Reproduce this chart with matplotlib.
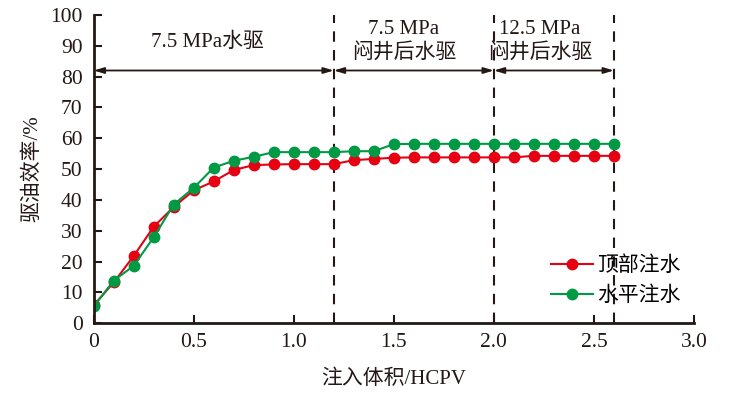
import matplotlib.pyplot as plt
import numpy as np

plt.rcParams['font.family'] = ['Liberation Serif', 'Noto Sans CJK SC']

# datos
vol = [0.0, 0.1, 0.2, 0.3, 0.4, 0.5, 0.6, 0.7, 0.8, 0.9, 1.0, 1.1, 1.2, 1.3,
       1.4, 1.5, 1.6, 1.7, 1.8, 1.9, 2.0, 2.1, 2.2, 2.3, 2.4, 2.5, 2.6]
top_inj = [5.8, 13.2, 21.8, 31.3, 37.7, 43.1, 46.0, 49.7, 51.3, 51.5, 51.6, 51.6, 51.6, 52.9,
           53.3, 53.7, 53.8, 53.8, 53.8, 53.8, 53.8, 53.8, 54.3, 54.3, 54.3, 54.3, 54.3]
hor_inj = [5.4, 13.8, 18.6, 27.9, 38.5, 43.9, 50.5, 52.7, 54.0, 55.5, 55.5, 55.5, 55.5, 55.8,
           55.8, 58.1, 58.2, 58.2, 58.2, 58.2, 58.2, 58.2, 58.2, 58.2, 58.2, 58.2, 58.2]
stage_x = [1.2, 2.0, 2.6]
stage_labels = ['7.5 MPa水驱', '7.5 MPa\n闷井后水驱', '12.5 MPa\n闷井后水驱']
stage_centers = [0.57, 1.55, 2.23]
legend_labels = ['顶部注水', '水平注水']

fig = plt.figure(figsize=(7.32, 3.96), dpi=100)
ax = fig.add_axes([0.128, 0.184, 0.82, 0.778])

red = '#E60012'
green = '#009944'
ink = '#231815'
ax.plot(vol, top_inj, '-o', color=red, ms=7.5, lw=1.5, label=legend_labels[0])
ax.plot(vol, hor_inj, '-o', color=green, ms=7.5, lw=1.5, label=legend_labels[1])

for xs in stage_x:
    ax.plot([xs, xs], [0, 100], color=ink, lw=1.5, ls=(0, (5, 4)), zorder=1)

# flechas de etapas
edges = [0] + stage_x
for i in range(3):
    ax.annotate('', xy=(edges[i], 82), xytext=(edges[i + 1], 82),
                arrowprops=dict(arrowstyle='<|-|>,head_length=0.6,head_width=0.18',
                                color=ink, lw=1.3, shrinkA=0, shrinkB=0))
ax.text(stage_centers[0], 91, stage_labels[0], ha='center', va='center', fontsize=15,
        color=ink)
for i in (1, 2):
    ax.text(stage_centers[i], 91.5, stage_labels[i], ha='center', va='center', fontsize=15,
            color=ink, linespacing=1.25)

ax.set_xlim(0, 3.0)
ax.set_ylim(0, 100)
ax.set_xticks(np.arange(0, 3.01, 0.5))
ax.set_xticklabels(['0', '0.5', '1.0', '1.5', '2.0', '2.5', '3.0'])
ax.set_yticks(range(0, 101, 10))
ax.tick_params(direction='in', length=6, width=1.5, labelsize=15.5, colors=ink)
ax.tick_params(axis='y', pad=8)
ax.tick_params(axis='x', pad=7)
for s in ['top', 'right']:
    ax.spines[s].set_visible(False)
for s in ['left', 'bottom']:
    ax.spines[s].set_linewidth(2)
    ax.spines[s].set_color(ink)

ax.set_xlabel('注入体积/HCPV', fontsize=15, color=ink, labelpad=13)
ax.set_ylabel('驱油效率/%', fontsize=15, color=ink, labelpad=6)

ax.legend(loc='upper left', bbox_to_anchor=(0.745, 0.25), frameon=False, fontsize=15,
          handlelength=2.0, handletextpad=0.2, labelspacing=0.5, borderpad=0)

fig.savefig('out.png', dpi=100)
